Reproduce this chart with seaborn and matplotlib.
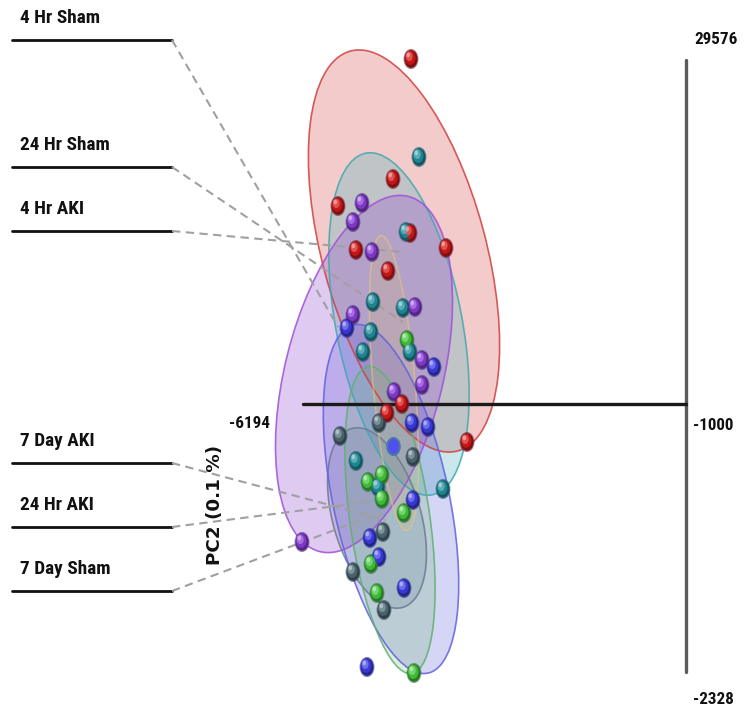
import numpy as np
import pandas as pd
import matplotlib
matplotlib.use("Agg")
import matplotlib.pyplot as plt
from matplotlib.patches import Ellipse
from matplotlib.path import Path
from matplotlib.transforms import Affine2D
from matplotlib.colors import to_rgb
from matplotlib import font_manager as fm
import seaborn as sns

# ---- sample scores (plot units) ----
groups = ["4 Hr Sham", "24 Hr Sham", "4 Hr AKI", "7 Day AKI", "24 Hr AKI", "7 Day Sham"]

sham4_x = [411, 393, 338, 356, 410, 446, 388, 402, 387, 467]
sham4_y = [59, 179, 206, 250, 233, 248, 271, 404, 413, 442]

sham24_x = [419, 406, 373, 403, 371, 363, 410, 356, 378, 443]
sham24_y = [157, 232, 302, 308, 332, 352, 352, 461, 487, 489]

aki4_x = [362, 353, 372, 415, 353, 422, 422, 394, 302]
aki4_y = [203, 222, 252, 307, 315, 360, 385, 392, 542]

aki7d_x = [379, 340, 413, 383, 353, 384]
aki7d_y = [423, 436, 457, 532, 572, 610]

aki24_x = [347, 434, 412, 428, 413, 370, 379, 404, 367]
aki24_y = [328, 367, 423, 427, 500, 538, 557, 588, 667]

sham7d_x = [407, 368, 382, 382, 404, 371, 377, 414]
sham7d_y = [340, 482, 475, 499, 513, 564, 593, 673]

# group centroid marker
centroid_x = [393]
centroid_y = [446]

# confidence ellipses: centre, semi-major, semi-minor, tilt (deg, "\" positive)
ell_cx = [404, 399, 364, 377, 391, 390, 394]
ell_cy = [251, 324, 374, 518, 499, 520, 383]
ell_a = [207, 174, 183, 93, 178, 155, 148]
ell_b = [82, 63, 79, 44, 58, 40, 21]
ell_tilt = [15, 11, -14, 16, 12, 8, 5]

ball_colors = ["#d41818", "#22909c", "#8a3cd6", "#4f6b74", "#3c3ce4", "#44c83c"]
fill_colors = ["#d85454", "#50b4be", "#9650d2", "#5a6e82", "#5a5adc", "#64b464", "#e0c060"]
fill_alpha = [0.30, 0.30, 0.30, 0.20, 0.25, 0.22, 0.18]
edge_colors = ["#d04040", "#40a8b0", "#a050d8", "#6a7a90", "#6060e0", "#60b070", "#e6c878"]
edge_alpha = [0.85, 0.85, 0.85, 0.85, 0.85, 0.85, 0.55]

# legend rows and leader targets
label_y = [18, 145, 209, 441, 505, 569]
rule_y = [40, 167, 231, 463, 527, 591]
leader_x = [338, 403, 403, 386, 383, 380]
leader_y = [327, 322, 252, 520, 500, 513]

tick_text = ["29576", "-1000", "-2328", "-6194"]
tick_x = [716, 713, 713, 249]
tick_y = [40, 425, 700, 424]

xs = [sham4_x, sham24_x, aki4_x, aki7d_x, aki24_x, sham7d_x]
ys = [sham4_y, sham24_y, aki4_y, aki7d_y, aki24_y, sham7d_y]
df = pd.concat(
    [pd.DataFrame({"x": x, "y": y, "group": g}) for g, x, y in zip(groups, xs, ys)],
    ignore_index=True,
)

sns.set_style("white")
plt.rcParams["font.family"] = ["DejaVu Sans"]


def narrow_bold_font():
    """Pick a condensed bold face if one is installed."""
    best, rank = None, 99
    for f in fm.fontManager.ttflist:
        name = f.name
        condensed = ("Narrow" in name or "Condensed" in name
                     or str(f.stretch) in ("condensed", "semi-condensed", "extra-condensed"))
        w = f.weight if isinstance(f.weight, int) else (700 if "bold" in str(f.weight).lower() else 400)
        if not condensed or w < 600 or f.style != "normal":
            continue
        r = 0 if ("Liberation" in name or "Arial" in name) else (1 if "Roboto" in name else 2)
        if r < rank:
            best, rank = f.fname, r
    if best is None:
        return fm.FontProperties(family="Liberation Sans", weight="bold")
    return fm.FontProperties(fname=best)


label_font = narrow_bold_font()

fig = plt.figure(figsize=(7.45, 7.18), dpi=100)
ax = fig.add_axes([0, 0, 1, 1])
ax.set_xlim(0, 745)
ax.set_ylim(718, 0)
ax.axis("off")

# ellipses
for cx, cy, a, b, t, fc, al, ec, ea in zip(ell_cx, ell_cy, ell_a, ell_b, ell_tilt,
                                            fill_colors, fill_alpha, edge_colors, edge_alpha):
    ax.add_patch(Ellipse((cx, cy), width=2 * b, height=2 * a, angle=-t,
                         facecolor=fc, alpha=al, edgecolor="none", zorder=1))
    ax.add_patch(Ellipse((cx, cy), width=2 * b, height=2 * a, angle=-t,
                         facecolor="none", edgecolor=ec, lw=1.2, alpha=ea, zorder=2))

# axes of the score space
ax.plot([686, 686], [60, 672], color="#5a5a5a", lw=2.4, zorder=3)
ax.plot([303, 686], [404, 404], color="#1a1a1a", lw=2.4, zorder=3)

# legend labels with leader lines
labels = []
for g, ly, ry, tx, tyy in zip(groups, label_y, rule_y, leader_x, leader_y):
    labels.append(ax.text(20, ly, g, fontproperties=label_font, fontsize=14,
                          va="center", ha="left", color="#111111"))
    ax.plot([12, 172], [ry, ry], color="#111111", lw=2.0, zorder=3)
    ax.plot([172, tx], [ry, tyy], color="#a0a0a0", lw=1.5, ls=(0, (4, 2.6)), zorder=3)

ticks = []
for t, x, y in zip(tick_text, tick_x, tick_y):
    ticks.append(ax.text(x, y, t, fontproperties=label_font, fontsize=12,
                         ha="center", va="center", color="#111111"))

pc2 = ax.text(215, 505, "PC2 (0.1 %)", rotation=90, fontsize=14, fontweight="bold",
              ha="center", va="center", family="DejaVu Sans", color="#111111")

# fit text sizes to the layout widths
fig.canvas.draw()
r = fig.canvas.get_renderer()
k = 90.0 / labels[1].get_window_extent(r).width
for t in labels:
    t.set_fontsize(14 * k)
k = 43.0 / ticks[0].get_window_extent(r).width
for t in ticks:
    t.set_fontsize(12 * k)
k = 120.0 / pc2.get_window_extent(r).height
pc2.set_fontsize(14 * min(k, 1.1))


# shaded spheres: dark rim, body and highlight layers
def mix(c, w, f):
    c = np.array(to_rgb(c))
    w = np.array(to_rgb(w))
    return tuple(c * (1 - f) + w * f)


ball = Path.unit_circle().transformed(Affine2D().scale(1.0, 1.35))

layers = [  # (size, offset, tint target, tint amount, alpha)
    (210, 0.0, "#1a3050", 0.55, 0.6),
    (160, 0.0, "#000000", 0.40, 1.0),
    (105, 1.0, "#000000", 0.08, 1.0),
    (45, 2.2, "#ffffff", 0.25, 1.0),
    (12, 3.4, "#ffffff", 0.6, 0.9),
]
for i, (s, off, tgt, amt, al) in enumerate(layers):
    pal = {g: mix(c, tgt, amt) for g, c in zip(groups, ball_colors)}
    d = df.assign(x=df["x"] - off * 0.8, y=df["y"] - off * 1.2)
    sns.scatterplot(data=d, x="x", y="y", hue="group", palette=pal, s=s, marker=ball,
                    linewidth=0, alpha=al, legend=False, ax=ax, zorder=5 + i)

# centroid
sns.scatterplot(x=centroid_x, y=centroid_y, color="#5050f0", s=150, marker=ball,
                edgecolor="#4a78a8", linewidth=1.4, legend=False, ax=ax, zorder=11)

ax.set_xlim(0, 745)
ax.set_ylim(718, 0)
ax.set_xlabel("")
ax.set_ylabel("")
fig.savefig("out.png", dpi=100, facecolor="white")
